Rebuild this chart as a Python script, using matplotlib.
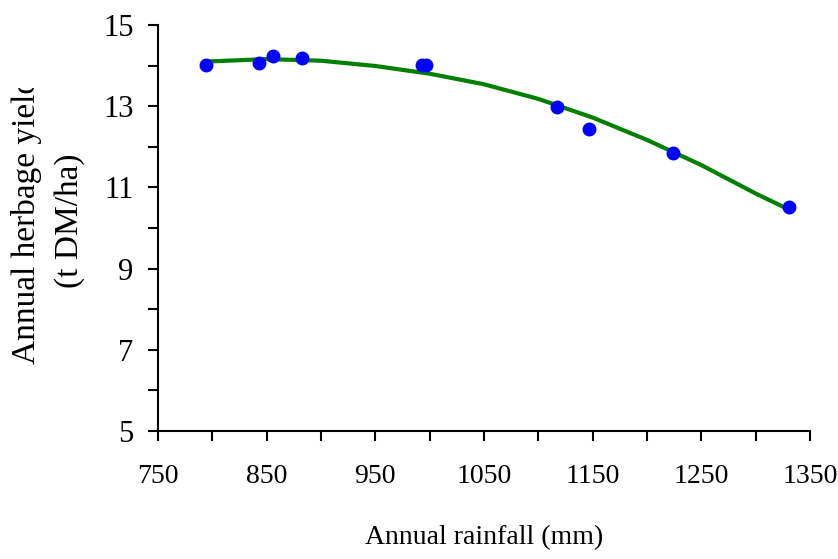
import matplotlib
matplotlib.use("Agg")
import matplotlib.pyplot as plt
from matplotlib.transforms import Bbox

# observed data points (annual rainfall mm, yield t DM/ha)
rainfall = [794, 843, 856, 883, 993, 997, 1117, 1147, 1224, 1331]
herbage_yield = [14.01, 14.06, 14.24, 14.19, 14.01, 14.01, 12.97, 12.44, 11.85, 10.52]

# trendline
trend_x = [795, 850, 900, 950, 1000, 1050, 1100, 1150, 1200, 1250, 1300, 1331]
trend_y = [14.10, 14.16, 14.12, 13.99, 13.80, 13.54, 13.18, 12.72, 12.17, 11.55, 10.85, 10.45]

x_labels = [750, 850, 950, 1050, 1150, 1250, 1350]
y_labels = [5, 7, 9, 11, 13, 15]

plt.rcParams['font.family'] = ['Liberation Serif', 'DejaVu Serif']

fig = plt.figure(figsize=(8.38, 5.59), dpi=100)
ax = fig.add_axes([0.1885, 0.229, 0.778, 0.7263])

ax.plot(trend_x, trend_y, "-", color="#008000", lw=3, zorder=2)
ax.plot(rainfall, herbage_yield, "o", color="#0000FF", ms=9, zorder=3)

ax.set_xlim(750, 1350)
ax.set_ylim(5, 15)
ax.set_xticks(x_labels)
ax.set_xticks(range(800, 1350, 100), minor=True)
ax.set_yticks(y_labels)
ax.set_yticks(range(6, 15, 2), minor=True)

for side in ("top", "right"):
    ax.spines[side].set_visible(False)
for side in ("left", "bottom"):
    ax.spines[side].set_linewidth(1.5)

ax.tick_params(which="both", direction="out", length=7, width=1.5)
ax.tick_params(axis="x", which="major", labelsize=20, pad=17)
ax.tick_params(axis="y", which="major", labelsize=22, pad=10.5)

ax.set_xlabel("Annual rainfall (mm)", fontsize=20, labelpad=26)

# y label, clipped at the top like the original
t = fig.text(0.032, 0.605, "Annual herbage yield", rotation=90,
             fontsize=24, ha="center", va="center")
t.set_clip_box(Bbox.from_extents(0, 0, 838, 559 - 88))
t.set_clip_on(True)
fig.text(0.083, 0.605, "(t DM/ha)", rotation=90,
         fontsize=24, ha="center", va="center")

plt.savefig("out.png", dpi=100)
